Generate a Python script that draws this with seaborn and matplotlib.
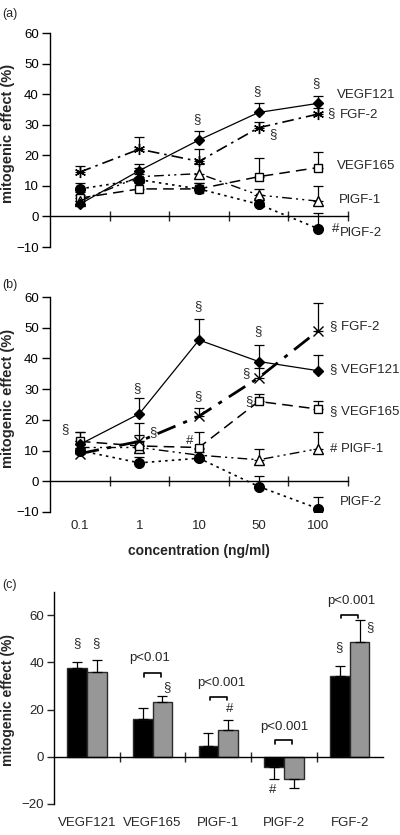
import matplotlib
matplotlib.use('Agg')
import matplotlib.pyplot as plt
import seaborn as sns
import numpy as np
import pandas as pd

sns.set_theme(style='ticks')
plt.rcParams['font.family'] = ['Liberation Sans', 'DejaVu Sans']
plt.rcParams['axes.unicode_minus'] = True

# ---------------- data ----------------
concentrations = ['0.1', '1', '10', '50', '100']
factors = ['VEGF121', 'VEGF165', 'PlGF-1', 'PlGF-2', 'FGF-2']

# panel (a)
a_vegf121 = [4, 15, 25, 34, 37]
a_vegf121_err = [1, 2, 3, 3, 2.5]
a_vegf165 = [6, 9, 9, 13, 16]
a_vegf165_err = [2, 2, 2, 6, 5]
a_plgf1 = [5, 13, 14, 7, 5]
a_plgf1_err = [2, 3, 3, 2, 5]
a_plgf2 = [9, 12, 9, 4, -4]
a_plgf2_err = [2, 2, 2, 2, 5.2]
a_fgf2 = [14.5, 22, 18, 29, 33.5]
a_fgf2_err = [2, 4, 4, 2, 2]

# panel (b)
b_vegf121 = [12, 22, 46, 39, 36]
b_vegf121_err = [4, 5, 7, 5.5, 5]
b_vegf165 = [13, 11.5, 11, 26, 23.5]
b_vegf165_err = [3, 7.5, 5, 2.5, 2.5]
b_plgf1 = [11, 11, 8.5, 7, 10.6]
b_plgf1_err = [2, 2, 2, 3.6, 5.6]
b_plgf2 = [10, 6, 7.5, -1.7, -8.9]
b_plgf2_err = [2, 2, 2, 3.4, 3.9]
b_fgf2 = [9, 13, 21.2, 33.7, 49]
b_fgf2_err = [2, 2, 2.5, 3.3, 9]

# panel (c)
bar_groups = ['a', 'b']
c_black = [37.4, 16, 4.7, -4.5, 34.2]
c_black_err = [2.6, 4.6, 5.3, 4.7, 4.3]
c_gray = [36, 23, 11.2, -9.2, 48.7]
c_gray_err = [5.2, 2.9, 4.5, 4.2, 9.2]

# ---------------- styles ----------------
styles = {
    'VEGF121': dict(marker='D', mfc='black', ms=5, ls='-', lw=0.9),
    'VEGF165': dict(marker='s', mfc='white', ms=6, ls=(0, (7, 4)), lw=1.1),
    'PlGF-1': dict(marker='^', mfc='white', ms=6.5, ls=(0, (7, 3, 1.5, 3, 1.5, 3)), lw=1.0),
    'PlGF-2': dict(marker='o', mfc='black', ms=7, ls=(0, (1.5, 2.5)), lw=1.2),
    'FGF-2': dict(marker=(6, 2, 0), mfc='black', ms=8, ls=(0, (7, 3, 1.5, 3)), lw=1.2),
}

TICK_FS = 9.5
LAB_FS = 9.5
fs = 9.5

fig = plt.figure(figsize=(4.0, 8.35), dpi=100)
W, H = 400, 835


def ax_rect(l, r, t, b):
    return [l / W, 1 - b / H, (r - l) / W, (b - t) / H]


def line_panel(ax, series, ylabel_x, is_b):
    pos = np.arange(len(concentrations))
    for name, (vals, errs) in series.items():
        st = dict(styles[name])
        if is_b and name == 'FGF-2':
            st['marker'] = 'x'
            st['lw'] = 2.0
            st['ms'] = 7
        df = pd.DataFrame({'pos': pos, 'value': vals})
        ax.errorbar(pos, vals, yerr=[np.zeros(len(errs)), errs], fmt='none',
                    ecolor='black', elinewidth=0.9, capsize=3.5, capthick=0.9, zorder=2)
        sns.lineplot(data=df, x='pos', y='value', ax=ax, color='black',
                     marker=st['marker'], markerfacecolor=st['mfc'],
                     markeredgecolor='black', markeredgewidth=1.0,
                     markersize=st['ms'], linestyle=st['ls'], linewidth=st['lw'],
                     legend=False, zorder=3)
    ax.set_xlim(-0.5, 4.5)
    ax.set_ylim(-10, 60)
    ax.set_yticks(np.arange(-10, 61, 10))
    ax.set_xticks(pos)
    ax.set_xticks(np.arange(0.5, 5, 1), minor=True)
    ax.spines['right'].set_visible(False)
    ax.spines['top'].set_visible(False)
    ax.spines['bottom'].set_position(('data', 0))
    for s in ['left', 'bottom']:
        ax.spines[s].set_linewidth(1.0)
        ax.spines[s].set_color('black')
    ax.tick_params(axis='y', direction='out', length=6, width=1, labelsize=TICK_FS, pad=2, colors='black')
    ax.tick_params(axis='x', which='major', length=0, labelsize=TICK_FS, pad=28)
    ax.tick_params(axis='x', which='minor', direction='inout', length=7, width=1)
    ax.set_ylabel('mitogenic effect (%)', fontsize=10.5, fontweight='bold')
    ax.yaxis.set_label_coords(ylabel_x, 0.53)
    ax.set_xlabel('')


ax_a = fig.add_axes(ax_rect(50, 348, 33, 247))
ax_b = fig.add_axes(ax_rect(50, 348, 297, 512))

# ---------------- panel (a) ----------------
series_a = {
    'VEGF165': (a_vegf165, a_vegf165_err),
    'PlGF-1': (a_plgf1, a_plgf1_err),
    'PlGF-2': (a_plgf2, a_plgf2_err),
    'FGF-2': (a_fgf2, a_fgf2_err),
    'VEGF121': (a_vegf121, a_vegf121_err),
}
line_panel(ax_a, series_a, -0.117, False)
ax_a.set_xticklabels([])
tk = dict(fontsize=LAB_FS, va='center', ha='left', clip_on=False)
ax_a.text(1.97, 31.7, '§', fontsize=fs, ha='center', va='center')
ax_a.text(2.97, 41, '§', fontsize=fs, ha='center', va='center')
ax_a.text(3.97, 43.5, '§', fontsize=fs, ha='center', va='center')
ax_a.text(3.24, 27, '§', fontsize=fs, ha='center', va='center')
ax_a.text(4.22, 33.7, '§', fontsize=fs, ha='center', va='center')
ax_a.text(4.29, -4.2, '#', fontsize=fs, ha='center', va='center')
ax_a.text(4.32, 39.8, 'VEGF121', **tk)
ax_a.text(4.37, 33.3, 'FGF-2', **tk)
ax_a.text(4.32, 16.5, 'VEGF165', **tk)
ax_a.text(4.34, 5.5, 'PlGF-1', **tk)
ax_a.text(4.37, -5.5, 'PlGF-2', **tk)

# ---------------- panel (b) ----------------
series_b = {
    'PlGF-1': (b_plgf1, b_plgf1_err),
    'PlGF-2': (b_plgf2, b_plgf2_err),
    'VEGF165': (b_vegf165, b_vegf165_err),
    'FGF-2': (b_fgf2, b_fgf2_err),
    'VEGF121': (b_vegf121, b_vegf121_err),
}
line_panel(ax_b, series_b, -0.117, True)
ax_b.set_xticklabels(concentrations)
ax_b.set_xlabel('concentration (ng/ml)', fontsize=10, fontweight='bold')
ax_b.xaxis.set_label_coords(0.5, -0.15)
for (x, y, s) in [(-0.25, 16.9, '§'), (0.96, 30.5, '§'), (1.22, 16, '§'),
                  (1.98, 57, '§'), (1.98, 27.7, '§'), (1.84, 13.1, '#'),
                  (2.99, 48.8, '§'), (2.79, 35.3, '§'), (2.84, 26.1, '§')]:
    ax_b.text(x, y, s, fontsize=fs, ha='center', va='center')
ax_b.text(4.2, 50.4, '§ FGF-2', **tk)
ax_b.text(4.2, 36.4, '§ VEGF121', **tk)
ax_b.text(4.2, 22.8, '§ VEGF165', **tk)
ax_b.text(4.2, 10.4, '# PlGF-1', **tk)
ax_b.text(4.37, -6.9, 'PlGF-2', **tk)

# ---------------- panel (c) ----------------
ax_c = fig.add_axes(ax_rect(54, 382.5, 591.5, 804))
df_c = pd.DataFrame({
    'factor': factors * 2,
    'value': c_black + c_gray,
    'group': [bar_groups[0]] * len(factors) + [bar_groups[1]] * len(factors),
})
sns.barplot(data=df_c, x='factor', y='value', hue='group', order=factors,
            hue_order=bar_groups, palette=['black', '#979797'], errorbar=None,
            width=0.6, edgecolor='#2a2a2a', linewidth=1.0, legend=False,
            ax=ax_c, zorder=2)
for cont, errs in zip(ax_c.containers, [c_black_err, c_gray_err]):
    xs = [p.get_x() + p.get_width() / 2 for p in cont.patches]
    hs = [p.get_height() for p in cont.patches]
    lower = [e if h < 0 else 0 for h, e in zip(hs, errs)]
    upper = [e if h >= 0 else 0 for h, e in zip(hs, errs)]
    ax_c.errorbar(xs, hs, yerr=[lower, upper], fmt='none', ecolor='black',
                  elinewidth=0.9, capsize=3.5, capthick=0.9, zorder=3)
ax_c.set_xlim(-0.5, 4.5)
ax_c.set_ylim(-20, 70)
ax_c.set_yticks([-20, 0, 20, 40, 60])
ax_c.set_xticks(np.arange(0.5, 4, 1), minor=True)
ax_c.spines['right'].set_visible(False)
ax_c.spines['top'].set_visible(False)
ax_c.spines['bottom'].set_position(('data', 0))
for s in ['left', 'bottom']:
    ax_c.spines[s].set_linewidth(1.0)
    ax_c.spines[s].set_color('black')
ax_c.tick_params(axis='y', direction='out', length=5, width=1, labelsize=TICK_FS, pad=2)
ax_c.tick_params(axis='x', which='major', length=0, labelsize=TICK_FS, pad=43)
ax_c.tick_params(axis='x', which='minor', direction='inout', length=7, width=1)
ax_c.set_xlabel('')
ax_c.set_ylabel('mitogenic effect (%)', fontsize=10, fontweight='bold')
ax_c.yaxis.set_label_coords(-0.1185, 0.49)

for (x, y, s) in [(-0.155, 48, '§'), (0.135, 48, '§'), (1.215, 29.7, '§'),
                  (2.18, 20.3, '#'), (2.83, -14, '#'), (3.84, 46.6, '§'), (4.31, 54.8, '§')]:
    ax_c.text(x, y, s, fontsize=fs, ha='center', va='center')
for (x, y, s, by) in [(0.96, 42, 'p<0.01', 35.4), (2.05, 31.2, 'p<0.001', 25.5),
                      (3.0, 12.8, 'p<0.001', 6.9), (4.03, 66, 'p<0.001', 60)]:
    ax_c.text(x, y, s, fontsize=fs, ha='center', va='center')
    c = round(x)
    ax_c.plot([c - 0.13, c - 0.13, c + 0.13, c + 0.13], [by - 1.4, by, by, by - 1.4],
              color='black', lw=1.2, zorder=4)

for lab, ypx in [('(a)', 14), ('(b)', 285), ('(c)', 585)]:
    fig.text(2 / W, 1 - ypx / H, lab, fontsize=9, ha='left', va='center')

fig.savefig('out.png', dpi=100)
